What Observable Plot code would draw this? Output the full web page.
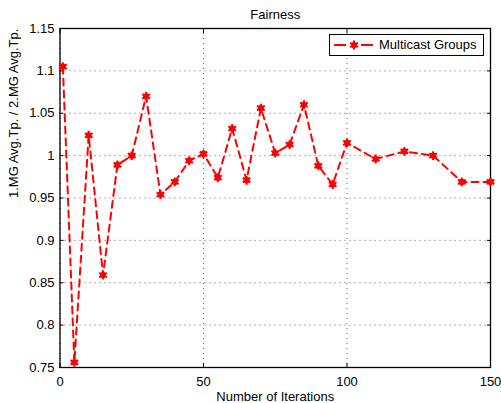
<!DOCTYPE html>
<html>
<head>
<meta charset="utf-8">
<script src="https://cdn.jsdelivr.net/npm/d3@7"></script>
<script src="https://cdn.jsdelivr.net/npm/@observablehq/plot@0.6"></script>
<style>
  html, body { margin: 0; padding: 0; background: #fff; }
  #wrap { position: relative; width: 501px; height: 403px; font-family: "Liberation Sans", Arial, sans-serif; }
  #legend { position: absolute; left: 329px; top: 34px; width: 153px; height: 20px; border: 1px solid #000; background: #fff; font-size: 13px; }
  #legend svg { position: absolute; left: 0; top: 0; }
  #legend span { position: absolute; left: 49px; top: 2px; white-space: nowrap; color: #000; }
</style>
</head>
<body>
<div id="wrap"></div>
<script>
const iterations = [1, 5, 10, 15, 20, 25, 30, 35, 40, 45, 50, 55, 60, 65, 70, 75, 80, 85, 90, 95, 100, 110, 120, 130, 140, 150];
const ratio = [1.105, 0.756, 1.024, 0.859, 0.989, 1.000, 1.070, 0.954, 0.969, 0.994, 1.002, 0.974, 1.032, 0.971, 1.056, 1.003, 1.013, 1.060, 0.988, 0.966, 1.015, 0.996, 1.005, 1.000, 0.969, 0.969];
const xTicks = [0, 50, 100, 150];
const yTicks = [0.75, 0.8, 0.85, 0.9, 0.95, 1, 1.05, 1.1, 1.15];
const titleText = "Fairness";
const xLabel = "Number of Iterations";
const yLabel = "1.MG Avg.Tp. / 2.MG Avg.Tp.";
const seriesName = "Multicast Groups";

const data = iterations.map((x, i) => ({x, y: ratio[i]}));
const fmt = d => String(+d.toFixed(2));
const red = "#ff0000";

const chart = Plot.plot({
  width: 501,
  height: 403,
  marginLeft: 59.5,
  marginRight: 11,
  marginTop: 28,
  marginBottom: 36,
  style: {fontFamily: '"Liberation Sans", Arial, sans-serif', fontSize: "13px", background: "#fff", color: "#000"},
  x: {domain: [0, 150]},
  y: {domain: [0.75, 1.15]},
  marks: [
    Plot.gridX(xTicks, {stroke: "#444", strokeOpacity: 0.85, strokeDasharray: "1,4"}),
    Plot.gridY(yTicks, {stroke: "#444", strokeOpacity: 0.85, strokeDasharray: "1,4"}),
    Plot.axisX(xTicks, {anchor: "bottom", tickSize: -4, tickPadding: 13, tickFormat: fmt, label: null}),
    Plot.axisX(xTicks, {anchor: "top", tickSize: -4, tickFormat: () => "", label: null}),
    Plot.axisY(yTicks, {anchor: "left", tickSize: -4, tickPadding: 9.5, tickFormat: fmt, label: null}),
    Plot.axisY(yTicks, {anchor: "right", tickSize: -4, tickFormat: () => "", label: null}),
    Plot.frame({stroke: "#000", strokeWidth: 1.3}),
    Plot.line(data, {x: "x", y: "y", stroke: red, strokeWidth: 2, strokeDasharray: "7,5"}),
    Plot.dot(data, {x: "x", y: "y", r: 3.1, fill: red, stroke: "none"}),
    Plot.dot(data, {x: "x", y: "y", symbol: "asterisk", r: 4.2, stroke: red, strokeWidth: 2}),
    Plot.text([titleText], {frameAnchor: "top", dy: -10, lineAnchor: "bottom", fontSize: 13}),
    Plot.text([xLabel], {frameAnchor: "bottom", dy: 33, lineAnchor: "bottom", fontSize: 13}),
    Plot.text([yLabel], {frameAnchor: "left", dx: -42, rotate: -90, lineAnchor: "bottom", fontSize: 13})
  ]
});
const wrap = document.getElementById("wrap");
wrap.appendChild(chart);

// legend
const legend = document.createElement("div");
legend.id = "legend";
const ns = "http://www.w3.org/2000/svg";
const lsvg = document.createElementNS(ns, "svg");
lsvg.setAttribute("width", 48); lsvg.setAttribute("height", 20);
const ln = document.createElementNS(ns, "line");
ln.setAttribute("x1", 4); ln.setAttribute("x2", 43); ln.setAttribute("y1", 10); ln.setAttribute("y2", 10);
ln.setAttribute("stroke", red); ln.setAttribute("stroke-width", 2); ln.setAttribute("stroke-dasharray", "12,15");
lsvg.appendChild(ln);
const c = document.createElementNS(ns, "circle");
c.setAttribute("cx", 24); c.setAttribute("cy", 10); c.setAttribute("r", 3.1); c.setAttribute("fill", red);
lsvg.appendChild(c);
const star = document.createElementNS(ns, "path");
star.setAttribute("d", d3.symbol(d3.symbolAsterisk, Math.PI * 4.2 * 4.2)());
star.setAttribute("transform", "translate(24,10)");
star.setAttribute("stroke", red); star.setAttribute("stroke-width", 2); star.setAttribute("fill", "none");
lsvg.appendChild(star);
legend.appendChild(lsvg);
const sp = document.createElement("span");
sp.textContent = seriesName;
legend.appendChild(sp);
wrap.appendChild(legend);
</script>
</body>
</html>
